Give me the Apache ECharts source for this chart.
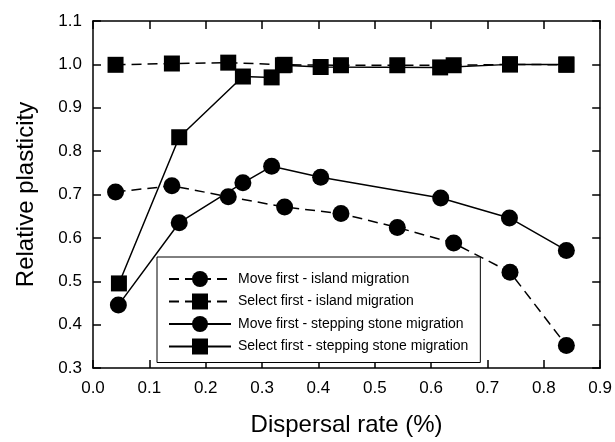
<!DOCTYPE html>
<html>
<head>
<meta charset="utf-8">
<script src="https://cdn.jsdelivr.net/npm/echarts@6/dist/echarts.min.js"></script>
<style>
  html, body { margin: 0; padding: 0; background: #fff; }
  #chart { width: 615px; height: 442px; }
</style>
</head>
<body>
<div id="chart"></div>
<script>
// dispersal rates (%) and relative plasticity
const islandX = [0.04, 0.14, 0.24, 0.34, 0.44, 0.54, 0.64, 0.74, 0.84];
const moveIsland = [0.706, 0.720, 0.695, 0.671, 0.656, 0.624, 0.588, 0.521, 0.352];
const selectIsland = [0.999, 1.002, 1.004, 0.999, 0.998, 0.998, 0.998, 1.0, 0.999];

const moveSteppingX = [0.045, 0.153, 0.266, 0.317, 0.404, 0.617, 0.739, 0.84];
const moveStepping = [0.445, 0.635, 0.727, 0.765, 0.740, 0.692, 0.646, 0.571];

const selectSteppingX = [0.046, 0.153, 0.266, 0.317, 0.337, 0.404, 0.616, 0.74, 0.84];
const selectStepping = [0.495, 0.832, 0.972, 0.970, 0.998, 0.994, 0.993, 1.0, 1.0];

const names = [
  'Move first - island migration',
  'Select first - island migration',
  'Move first - stepping stone migration',
  'Select first - stepping stone migration'
];

function pairs(xs, ys) {
  return xs.map((x, i) => [x, ys[i]]);
}

const chart = echarts.init(document.getElementById('chart'));
const font = 'Liberation Sans, Arial, sans-serif';
const dash = [10, 6];

function lineSeries(name, data, symbol, size, dashed) {
  return {
    name: name,
    type: 'line',
    data: data,
    symbol: symbol,
    symbolSize: size,
    showSymbol: true,
    animation: false,
    itemStyle: { color: '#000' },
    lineStyle: { color: '#000', width: 1.5, type: dashed ? dash : 'solid' }
  };
}

const axisLine = { show: true, onZero: false, lineStyle: { color: '#000', width: 1.5 } };
const tick = { show: true, inside: true, length: 8, lineStyle: { color: '#000', width: 1.5 } };

const option = {
  backgroundColor: '#fff',
  animation: false,
  grid: { left: 93, right: 14, top: 21, bottom: 67 },
  legend: {
    orient: 'vertical',
    left: 157,
    top: 257,
    padding: [14, 12, 8, 11],
    itemWidth: 62,
    itemHeight: 20,
    itemGap: 6.5,
    borderColor: '#000',
    borderWidth: 1,
    backgroundColor: '#fff',
    textStyle: { fontFamily: font, fontSize: 14, color: '#000', padding: [0, 0, 0, 2] },
    data: names
  },
  xAxis: [{
    type: 'value',
    min: 0,
    max: 0.9,
    interval: 0.1,
    name: 'Dispersal rate (%)',
    nameLocation: 'middle',
    nameGap: 45,
    nameTextStyle: { fontFamily: font, fontSize: 24, color: '#000' },
    axisLine: axisLine,
    axisTick: tick,
    splitLine: { show: false },
    axisLabel: {
      fontFamily: font, fontSize: 17, color: '#000', margin: 12,
      formatter: v => v.toFixed(1)
    }
  }, {
    type: 'value',
    position: 'top',
    min: 0,
    max: 0.9,
    interval: 0.1,
    axisLine: axisLine,
    axisTick: tick,
    splitLine: { show: false },
    axisLabel: { show: false }
  }],
  yAxis: [{
    type: 'value',
    min: 0.3,
    max: 1.1,
    interval: 0.1,
    name: 'Relative plasticity',
    nameLocation: 'middle',
    nameGap: 55,
    nameTextStyle: { fontFamily: font, fontSize: 24, color: '#000' },
    axisLine: axisLine,
    axisTick: tick,
    splitLine: { show: false },
    axisLabel: {
      fontFamily: font, fontSize: 17, color: '#000', margin: 11,
      formatter: v => v.toFixed(1)
    }
  }, {
    type: 'value',
    position: 'right',
    min: 0.3,
    max: 1.1,
    interval: 0.1,
    axisLine: axisLine,
    axisTick: tick,
    splitLine: { show: false },
    axisLabel: { show: false }
  }],
  series: [
    lineSeries(names[0], pairs(islandX, moveIsland), 'circle', 17, true),
    lineSeries(names[1], pairs(islandX, selectIsland), 'rect', 16, true),
    lineSeries(names[2], pairs(moveSteppingX, moveStepping), 'circle', 17, false),
    lineSeries(names[3], pairs(selectSteppingX, selectStepping), 'rect', 16, false)
  ]
};

chart.setOption(option);
</script>
</body>
</html>
